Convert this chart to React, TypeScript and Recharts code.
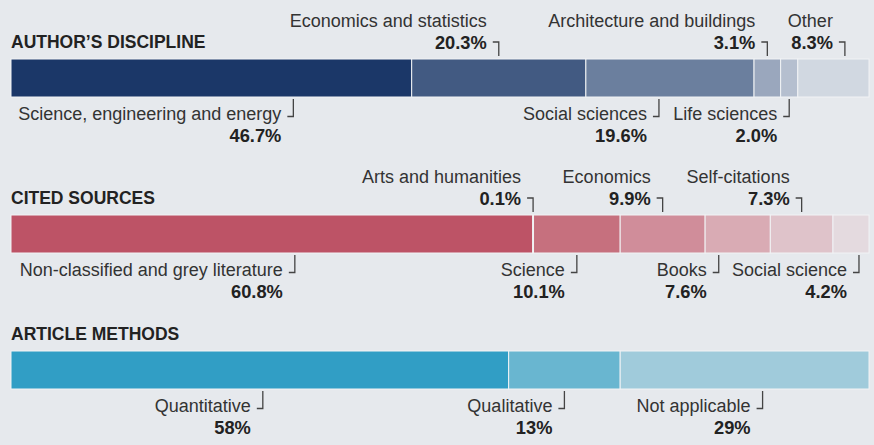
import { BarChart, Bar, XAxis, YAxis } from "recharts";

// Author's discipline
const disciplineNames = [
  "Science, engineering and energy",
  "Economics and statistics",
  "Social sciences",
  "Architecture and buildings",
  "Life sciences",
  "Other",
];
const disciplineValues = [46.7, 20.3, 19.6, 3.1, 2.0, 8.3];

// Cited sources
const sourceNames = [
  "Non-classified and grey literature",
  "Arts and humanities",
  "Science",
  "Economics",
  "Books",
  "Self-citations",
  "Social science",
];
const sourceValues = [60.8, 0.1, 10.1, 9.9, 7.6, 7.3, 4.2];

// Article methods
const methodNames = ["Quantitative", "Qualitative", "Not applicable"];
const methodValues = [58, 13, 29];

const FONT = "'Liberation Sans', Arial, sans-serif";
const BG = "#e6e9ed";

type Side = "above" | "below";

type Panel = {
  title: string;
  names: string[];
  values: number[];
  colors: string[];
  sides: Side[];
  nudge: number[];
  decimals: number;
  top: number;
  height: number;
  marginTop: number;
  titleY: number;
};

const panels: Panel[] = [
  {
    title: "AUTHOR\u2019S DISCIPLINE",
    names: disciplineNames,
    values: disciplineValues,
    colors: ["#1b3768", "#425a82", "#6b7f9e", "#9aa7bd", "#b5bfcf", "#d1d8e1"],
    sides: ["below", "above", "below", "above", "below", "above"],
    nudge: [82, 0, -11, 0, 0, 11.5],
    decimals: 1,
    top: 0,
    height: 156,
    marginTop: 59,
    titleY: 48,
  },
  {
    title: "CITED SOURCES",
    names: sourceNames,
    values: sourceValues,
    colors: ["#bd5366", "#d8a3ad", "#c6707e", "#d08d9a", "#d9abb4", "#dfc3ca", "#e4dadf"],
    sides: ["below", "above", "below", "above", "below", "above", "below"],
    nudge: [23, 0, 0, 0, -19, 0, 8],
    decimals: 1,
    top: 156,
    height: 144,
    marginTop: 59,
    titleY: 47.5,
  },
  {
    title: "ARTICLE METHODS",
    names: methodNames,
    values: methodValues,
    colors: ["#319ec5", "#69b6d0", "#a0cbdb"],
    sides: ["below", "below", "below"],
    nudge: [3, 0, 18],
    decimals: 0,
    top: 300,
    height: 145,
    marginTop: 51,
    titleY: 40,
  },
];

const BAR_H = 38;

function Segment(props: any) {
  const { x, y, width, height, fill, name, pct, side, nudge } = props;
  const ax = x + width / 2 + nudge;
  const tx = ax - 12;
  const bottom = y + height;
  const texts =
    side === "above"
      ? { a: y - 32, b: y - 10 }
      : { a: bottom + 22.5, b: bottom + 44.5 };
  const bracket =
    side === "above"
      ? `${ax - 6},${y - 17} ${ax},${y - 17} ${ax},${y - 3}`
      : `${ax},${bottom + 2} ${ax},${bottom + 19.5} ${ax - 6},${bottom + 19.5}`;
  return (
    <g>
      <rect x={x} y={y} width={width} height={height} fill={fill} stroke="#f1f3f5" strokeWidth={1} />
      <text x={tx} y={texts.a} textAnchor="end" fontFamily={FONT} fontSize={18} fill="#333">
        {name}
      </text>
      <text x={tx} y={texts.b} textAnchor="end" fontFamily={FONT} fontSize={18.3} fontWeight="bold" fill="#222">
        {pct}
      </text>
      <polyline points={bracket} fill="none" stroke="#444" strokeWidth={1.3} />
    </g>
  );
}

function StackPanel({ panel }: { panel: Panel }) {
  const row: Record<string, any> = { row: panel.title };
  panel.values.forEach((v, i) => {
    row[`s${i}`] = v;
  });
  return (
    <div style={{ position: "absolute", left: 0, top: panel.top }}>
      <BarChart
        width={874}
        height={panel.height}
        data={[row]}
        layout="vertical"
        barCategoryGap={0}
        margin={{
          top: panel.marginTop,
          right: 5,
          left: 11,
          bottom: panel.height - panel.marginTop - BAR_H,
        }}
      >
        <XAxis type="number" domain={[0, 100]} hide />
        <YAxis type="category" dataKey="row" hide />
        {panel.values.map((v, i) => (
          <Bar
            key={i}
            dataKey={`s${i}`}
            stackId="a"
            fill={panel.colors[i]}
            isAnimationActive={false}
            shape={(p: any) => (
              <Segment
                {...p}
                fill={panel.colors[i]}
                name={panel.names[i]}
                pct={`${v.toFixed(panel.decimals)}%`}
                side={panel.sides[i]}
                nudge={panel.nudge[i]}
              />
            )}
          />
        ))}
        <text x={11} y={panel.titleY} fontFamily={FONT} fontSize={17.5} fontWeight="bold" fill="#222">
          {panel.title}
        </text>
      </BarChart>
    </div>
  );
}

export default function App() {
  return (
    <div
      style={{
        position: "absolute",
        left: 0,
        top: 0,
        width: 874,
        height: 445,
        background: BG,
        overflow: "hidden",
      }}
    >
      {panels.map((p) => (
        <StackPanel key={p.title} panel={p} />
      ))}
    </div>
  );
}
